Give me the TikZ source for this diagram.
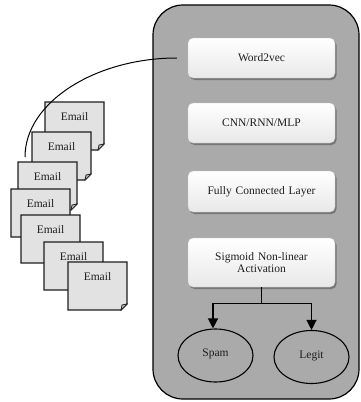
\documentclass[tikz,border=0pt]{standalone}
\usepackage{fontspec}
\setmainfont{Liberation Serif}
\usetikzlibrary{shapes.geometric,arrows.meta,shadows}

\definecolor{panelgray}{RGB}{170,170,170}
\definecolor{sheetgray}{RGB}{226,226,226}
\definecolor{inkdark}{RGB}{30,30,30}

% one e-mail sheet with a folded bottom-right corner: name, left, top
\newcommand\mailsheet[3]{%
  \path[sheetbody] (#2,#3) -- ++(59,0) -- ++(0,42) -- ++(-6,6) -- ++(-53,0) -- cycle;
  \path[sheetfold] (#2+59,#3+42) -- (#2+53,#3+48) -- (#2+54,#3+43) -- cycle;
  \node[mailtext] (#1) at (#2+29.5,#3+15) {Email};
}

\begin{document}
\begin{tikzpicture}[x=1pt,y=-1pt,
  font=\fontsize{11.5}{12.5}\selectfont,
  every node/.style={text=inkdark},
  panelbox/.style={draw=black, line width=1.2pt, fill=panelgray, rounded corners=30pt,
    minimum width=206pt, minimum height=394pt, inner sep=0pt},
  layerbox/.style={draw=gray!45, line width=0.4pt, rounded corners=5pt,
    top color=white, bottom color=gray!18, minimum width=147pt, inner sep=2pt,
    align=center, text width=140pt,
    drop shadow={shadow xshift=1.5pt, shadow yshift=-2pt, fill=black!70, opacity=0.55}},
  classnode/.style={draw=black, line width=1.1pt, ellipse, minimum width=75pt, minimum height=53pt, inner sep=0pt},
  sheetbody/.style={draw=inkdark, line width=1.1pt, fill=sheetgray, line join=miter},
  sheetfold/.style={draw=inkdark, line width=0.7pt, fill=gray!55},
  mailtext/.style={inner sep=0pt},
  flow/.style={draw=black, line width=1.2pt},
  tip/.style={-{Triangle[length=10pt,width=10pt]}}
]
\useasboundingbox (0,0) rectangle (361,402);

% processing panel
\node[panelbox] (panel) at (256,202) {};

% layers
\node[layerbox, minimum height=40pt] (w2v) at (261.5,58) {Word2vec};
\node[layerbox, minimum height=40pt] (cnn) at (261.5,123) {CNN/RNN/MLP};
\node[layerbox, minimum height=41pt] (fcl) at (261.5,191.5) {Fully Connected Layer};
\node[layerbox, minimum height=49pt] (sig) at (261.5,262.5) {Sigmoid Non-linear\\Activation};

% output classes
\node[classnode] (spam) at (215.5,355.5) {\raisebox{5pt}{Spam}};
\node[classnode] (legit) at (311.5,357) {\raisebox{5pt}{Legit}};

% split from the activation layer to both classes
\draw[flow] (sig.south) -- ++(0,16) coordinate (split);
\draw[flow,tip] (split) -| ([xshift=-2.5pt]spam.north);
\draw[flow,tip] (split) -| (legit.north);

% stack of e-mails
\mailsheet{e1}{45}{102}
\mailsheet{e2}{32}{132}
\mailsheet{e3}{18}{162}
\mailsheet{e4}{11}{189}
\mailsheet{e5}{21}{215}
\mailsheet{e6}{44}{242}
\mailsheet{e7}{68}{262}

% e-mails feed the embedding layer
\coordinate (feed) at (25,157);
\draw[line width=1pt, black, shorten >=11pt] (feed) .. controls +(0,-55) and +(-92,0) .. (w2v.west);
\end{tikzpicture}
\end{document}
